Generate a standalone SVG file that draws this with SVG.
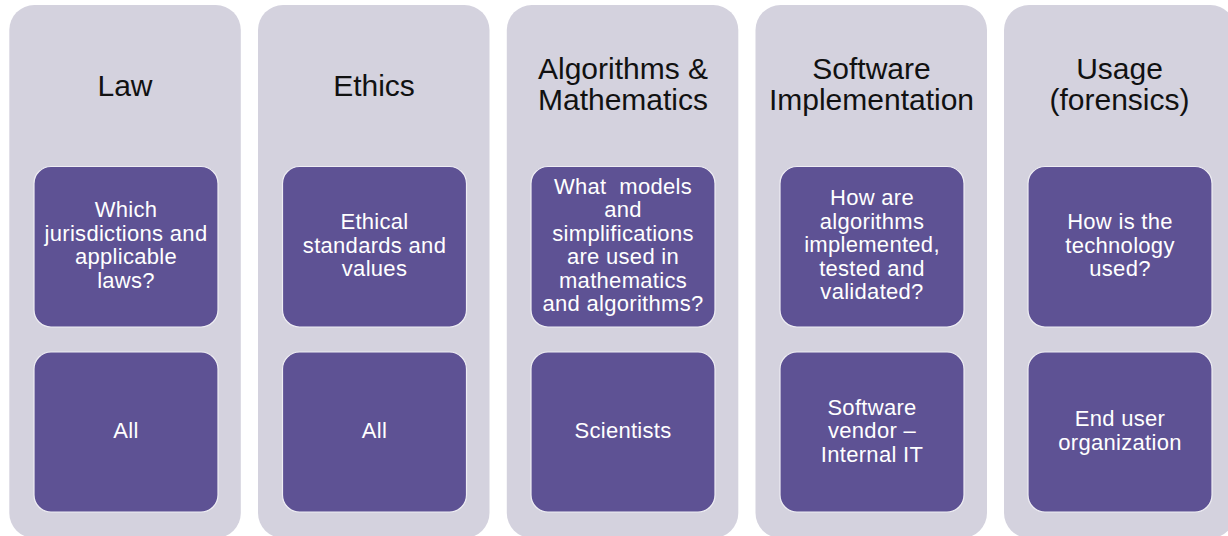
<svg xmlns="http://www.w3.org/2000/svg" width="1228" height="536" viewBox="0 0 1228 536">
  <style>
    .col { fill: #D4D2DE; }
    .box { fill: #5E5294; stroke: #EEEDF3; stroke-width: 1.2; }
    .title { font-family: "Liberation Sans", Arial, sans-serif; font-size: 30px; fill: #111111; text-anchor: middle; }
    .txt { font-family: "Liberation Sans", Arial, sans-serif; font-size: 22px; fill: #FFFFFF; text-anchor: middle; letter-spacing: 0.3px; white-space: pre; }
  </style>
  <rect width="1228" height="536" fill="#FFFFFF"/>

  <!-- Column 1: Law -->
  <g id="col-law">
    <rect class="col" x="9.3" y="5" width="231.5" height="533" rx="25"/>
    <text class="title" x="125" y="95.5">Law</text>
    <rect class="box" x="34" y="166.5" width="184" height="160.5" rx="17"/>
    <text class="txt" x="126"><tspan x="126" y="217">Which</tspan><tspan x="126" y="240.5">jurisdictions and</tspan><tspan x="126" y="264">applicable</tspan><tspan x="126" y="287.5">laws?</tspan></text>
    <rect class="box" x="34" y="352" width="184" height="160" rx="17"/>
    <text class="txt" x="126" y="438">All</text>
  </g>

  <!-- Column 2: Ethics -->
  <g id="col-ethics">
    <rect class="col" x="258" y="5" width="231.5" height="533" rx="25"/>
    <text class="title" x="374" y="95.5">Ethics</text>
    <rect class="box" x="282.5" y="166.5" width="184" height="160.5" rx="17"/>
    <text class="txt" x="374.5"><tspan x="374.5" y="229">Ethical</tspan><tspan x="374.5" y="252.5">standards and</tspan><tspan x="374.5" y="276">values</tspan></text>
    <rect class="box" x="282.5" y="352" width="184" height="160" rx="17"/>
    <text class="txt" x="374.5" y="438">All</text>
  </g>

  <!-- Column 3: Algorithms & Mathematics -->
  <g id="col-algorithms">
    <rect class="col" x="506.8" y="5" width="231.5" height="533" rx="25"/>
    <text class="title" x="623"><tspan x="623" y="79">Algorithms &amp;</tspan><tspan x="623" y="110">Mathematics</tspan></text>
    <rect class="box" x="531" y="166.5" width="184" height="160.5" rx="17"/>
    <text class="txt" x="623"><tspan x="623" y="193.5">What  models</tspan><tspan x="623" y="217">and</tspan><tspan x="623" y="240.5">simplifications</tspan><tspan x="623" y="264">are used in</tspan><tspan x="623" y="287.5">mathematics</tspan><tspan x="623" y="311">and algorithms?</tspan></text>
    <rect class="box" x="531" y="352" width="184" height="160" rx="17"/>
    <text class="txt" x="623" y="438">Scientists</text>
  </g>

  <!-- Column 4: Software Implementation -->
  <g id="col-software">
    <rect class="col" x="755.5" y="5" width="231.5" height="533" rx="25"/>
    <text class="title" x="871.5"><tspan x="871.5" y="79">Software</tspan><tspan x="871.5" y="110">Implementation</tspan></text>
    <rect class="box" x="780" y="166.5" width="184" height="160.5" rx="17"/>
    <text class="txt" x="872"><tspan x="872" y="205">How are</tspan><tspan x="872" y="228.5">algorithms</tspan><tspan x="872" y="252">implemented,</tspan><tspan x="872" y="275.5">tested and</tspan><tspan x="872" y="299">validated?</tspan></text>
    <rect class="box" x="780" y="352" width="184" height="160" rx="17"/>
    <text class="txt" x="872"><tspan x="872" y="414.5">Software</tspan><tspan x="872" y="438">vendor –</tspan><tspan x="872" y="461.5">Internal IT</tspan></text>
  </g>

  <!-- Column 5: Usage (forensics) -->
  <g id="col-usage">
    <rect class="col" x="1004" y="5" width="231.5" height="533" rx="25"/>
    <text class="title" x="1119.5"><tspan x="1119.5" y="79">Usage</tspan><tspan x="1119.5" y="110">(forensics)</tspan></text>
    <rect class="box" x="1028" y="166.5" width="184" height="160.5" rx="17"/>
    <text class="txt" x="1120"><tspan x="1120" y="229">How is the</tspan><tspan x="1120" y="252.5">technology</tspan><tspan x="1120" y="276">used?</tspan></text>
    <rect class="box" x="1028" y="352" width="184" height="160" rx="17"/>
    <text class="txt" x="1120"><tspan x="1120" y="426">End user</tspan><tspan x="1120" y="449.5">organization</tspan></text>
  </g>

  <!-- no connectors in this layout -->
  <g id="connectors"/>
</svg>
